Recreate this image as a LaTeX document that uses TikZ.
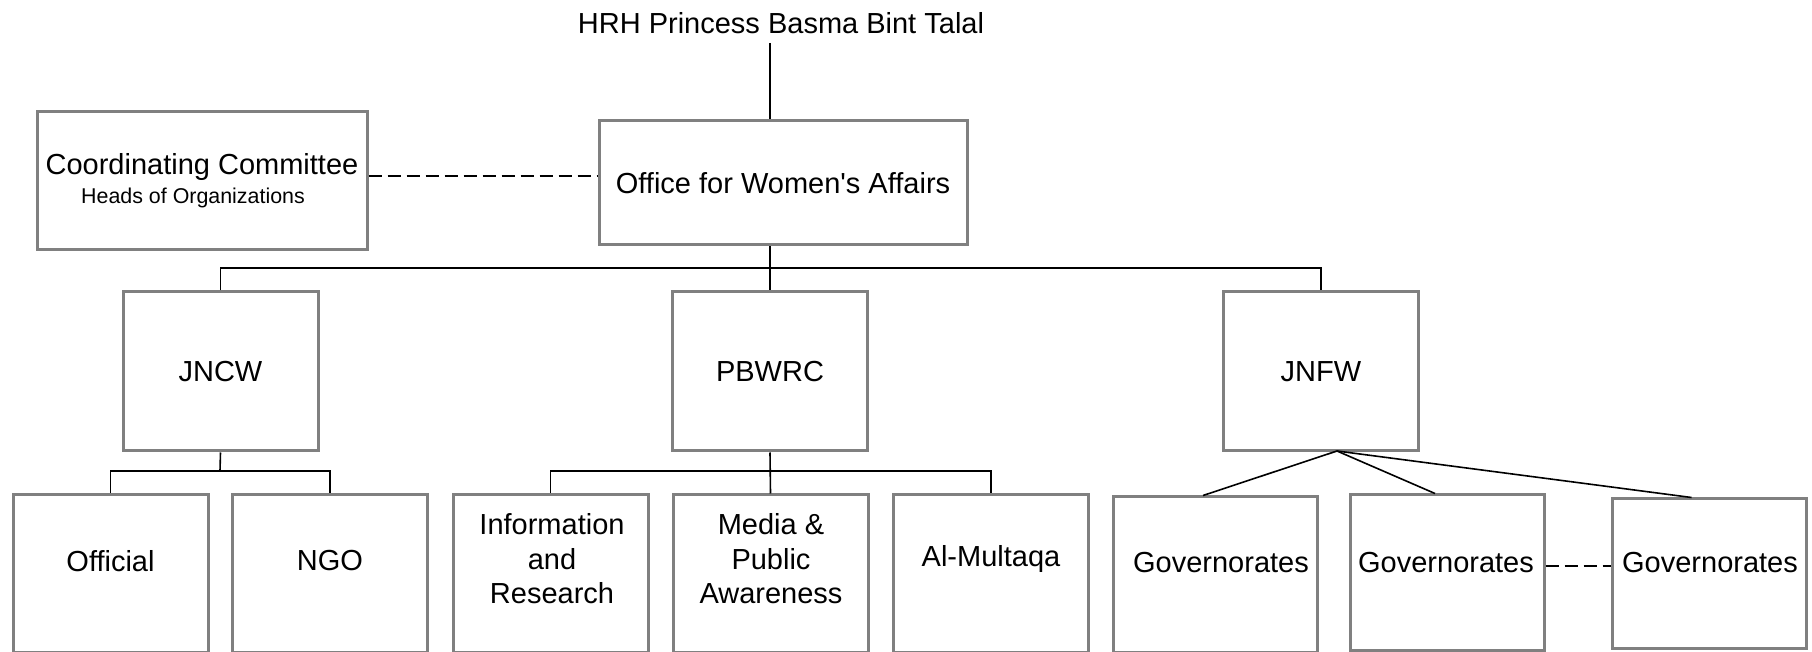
\documentclass[tikz,border=0pt]{standalone}
\usepackage{fontspec}
\setmainfont{Liberation Sans}
\usetikzlibrary{calc,positioning}
\definecolor{boxgray}{HTML}{808080}

\begin{document}
\begin{tikzpicture}[
    x=0.5pt, y=-0.5pt,
    font=\fontsize{14.5}{17.3}\selectfont,
    unit/.style={draw=boxgray, line width=1.5pt, inner sep=0pt, align=center},
    mid/.style={unit, minimum width=97.5pt, minimum height=79.5pt},
    low/.style={unit, minimum width=97.5pt, minimum height=78.5pt},
    gov/.style={unit, minimum width=97pt, minimum height=77.5pt},
    lbl/.style={align=center, inner sep=0pt},
    link/.style={line width=0.8pt},
    dashlink/.style={link, dash pattern=on 6.5pt off 3pt}
]
\useasboundingbox (0,0) rectangle (1812,652);

% top
\node[lbl] (hrh) at (781,23) {HRH Princess Basma Bint Talal};
\node[unit, minimum width=184pt, minimum height=62pt] (owa) at (783,183)
    {Office for Women\textquotesingle s Affairs};
\node[unit, minimum width=165pt, minimum height=69pt] (cc) at (202,181)
    {Coordinating Committee\\[-3pt]{\fontsize{10.7}{12}\selectfont Heads of Organizations\hspace*{9pt}}};

% second level
\node[mid] (nc) at (220.5,371.5) {JNCW};
\node[mid] (pb) at (770,371.5) {PBWRC};
\node[mid] (nf) at (1321,371.5) {JNFW};

% third level
\node[low] (ofl) at (110.5,573.5) {};
\node[lbl] (oflt) at (110.5,561) {Official};
\node[low] (ngo) at (330,573.5) {};
\node[lbl] (ngot) at (330,561) {NGO};
\node[low] (inf) at (550.5,573.5) {};
\node[lbl] (inft) at (552,559) {Information\\and\\Research};
\node[low] (med) at (770.5,573.5) {};
\node[lbl] (medt) at (771,559) {Media \&\\Public\\Awareness};
\node[low] (alm) at (991,573.5) {};
\node[lbl] (almt) at (991,559) {Al-Multaqa};

\node[gov, minimum width=102pt] (gv1) at (1215,574.5) {};
\node[lbl] (gv1t) at (1221,563) {Governorates};
\node[gov] (gv2) at (1447,572.5) {};
\node[lbl] (gv2t) at (1446,563) {Governorates};
\node[gov, minimum height=74.5pt] (gv3) at (1709.5,573.5) {};
\node[lbl] (gv3t) at (1710,563) {Governorates};

% connectors
\coordinate (trunk) at (770,43);
\coordinate (bar1) at (770,268);
\coordinate (bar2) at (220,471);
\coordinate (bar3) at (770,471);
\coordinate (fan) at (1337,451);
\coordinate (ccy) at (0,176);
\coordinate (gvy) at (0,566);

\draw[link] (trunk) -- (owa.north -| trunk);
\draw[link] (owa.south -| pb) -- (pb.north);
\draw[link] (nc.north) |- (bar1) -| (nf.north);

\draw[link] (nc.south) -- (bar2);
\draw[link] (ofl.north) |- (bar2) -| (ngo.north);
\draw[link] (pb.south) -- (med.north);
\draw[link] (inf.north) |- (bar3) -| (alm.north);

\draw[link] (fan) -- ([xshift=-6pt]gv1.north);
\draw[link] (fan) -- ([xshift=-6pt]gv2.north);
\draw[link] (fan) -- ([xshift=-9pt]gv3.north);

\draw[dashlink] (cc.east |- ccy) -- (owa.west |- ccy);
\draw[dashlink] (gv2.east |- gvy) -- (gv3.west |- gvy);

\end{tikzpicture}
\end{document}
